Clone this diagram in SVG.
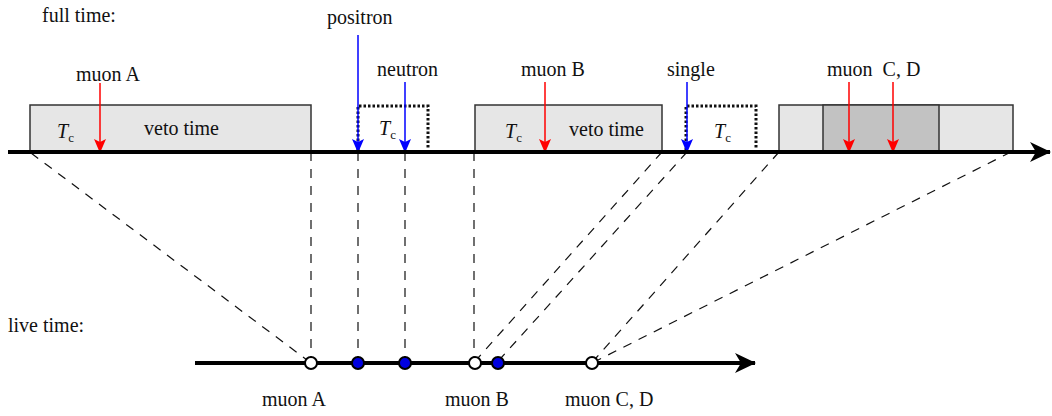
<svg xmlns="http://www.w3.org/2000/svg" width="1052" height="416" viewBox="0 0 1052 416">
<style>
text{font-family:"Liberation Serif","Times New Roman",serif;font-size:20px;fill:#111}
.box{fill:#e6e6e6;stroke:#333;stroke-width:1.5}
.dark{fill:#c2c2c2;stroke:#333;stroke-width:1.5}
.dot{fill:none;stroke:#111;stroke-width:3;stroke-dasharray:2.5 2}
.axis{stroke:#000;stroke-width:4;fill:none}
.dash{stroke:#111;stroke-width:1.2;stroke-dasharray:9 8;fill:none}
.red{stroke:#ff0000;stroke-width:1.5;fill:none}
.blue{stroke:#0000ff;stroke-width:1.5;fill:none}
.open{fill:#fff;stroke:#000;stroke-width:2}
.fill{fill:#0000e0;stroke:#000;stroke-width:2}
.sub{font-style:normal;font-size:13px}
</style>
<defs>
<marker id="ar" markerWidth="14" markerHeight="14" refX="13" refY="7" orient="auto" markerUnits="userSpaceOnUse"><path d="M0,1 L14,7 L0,13 L3,7 Z" fill="#ff0000"/></marker>
<marker id="ab" markerWidth="14" markerHeight="14" refX="13" refY="7" orient="auto" markerUnits="userSpaceOnUse"><path d="M0,1 L14,7 L0,13 L3,7 Z" fill="#0000ff"/></marker>
<marker id="ak" markerWidth="22" markerHeight="22" refX="20" refY="11" orient="auto" markerUnits="userSpaceOnUse"><path d="M0,1 L21,11 L0,21 L6,11 Z" fill="#000"/></marker>
</defs>
<text x="42" y="22">full time:</text>
<text x="8" y="332">live time:</text>
<g id="connectors">
<path class="dash" d="M31,153 L311,363"/>
<path class="dash" d="M311,152 V357"/>
<path class="dash" d="M358,152 V357"/>
<path class="dash" d="M405,152 V357"/>
<path class="dash" d="M474,152 V357"/>
<path class="dash" d="M662,152 L478,358"/>
<path class="dash" d="M687,152 L501,358"/>
<path class="dash" d="M779,152 L596,358"/>
<path class="dash" d="M1011,152 L598,360"/>
</g>
<g id="boxA">
<rect class="box" x="30" y="105" width="281" height="47"/>
<text x="57" y="138" font-style="italic">T<tspan class="sub" dy="4">c</tspan></text>
<text x="144" y="135">veto time</text>
</g>
<g id="muonA">
<text x="76" y="81">muon A</text>
<path class="red" d="M100,83 V152" marker-end="url(#ar)"/>
</g>
<g id="tcWindow1">
<path class="dot" d="M358,150 V106 H428 V148"/>
<text x="379" y="135" font-style="italic">T<tspan class="sub" dy="4">c</tspan></text>
</g>
<g id="positron">
<text x="327" y="24">positron</text>
<path class="blue" d="M358,35 V152" marker-end="url(#ab)"/>
</g>
<g id="neutron">
<text x="377" y="76">neutron</text>
<path class="blue" d="M405,82 V152" marker-end="url(#ab)"/>
</g>
<g id="boxB">
<rect class="box" x="475" y="105" width="187" height="47"/>
<text x="505" y="138" font-style="italic">T<tspan class="sub" dy="4">c</tspan></text>
<text x="569" y="136">veto time</text>
</g>
<g id="muonB">
<text x="521" y="76">muon B</text>
<path class="red" d="M545,82 V152" marker-end="url(#ar)"/>
</g>
<g id="tcWindow2">
<path class="dot" d="M686,150 V106 H756 V148"/>
<text x="714" y="138" font-style="italic">T<tspan class="sub" dy="4">c</tspan></text>
</g>
<g id="single">
<text x="667" y="76">single</text>
<path class="blue" d="M687,82 V152" marker-end="url(#ab)"/>
</g>
<g id="boxCD">
<rect class="box" x="779" y="105" width="234" height="47"/>
<rect class="dark" x="823" y="105" width="116" height="47"/>
</g>
<g id="muonCD">
<text x="827" y="76" xml:space="preserve">muon  C, D</text>
<path class="red" d="M849,82 V152" marker-end="url(#ar)"/>
<path class="red" d="M893,82 V152" marker-end="url(#ar)"/>
</g>
<g id="fullAxis">
<path class="axis" d="M8,152 H1050" marker-end="url(#ak)"/>
</g>
<g id="liveAxis">
<path class="axis" d="M195,363 H755" marker-end="url(#ak)"/>
</g>
<g id="liveMuonA">
<circle class="open" cx="311" cy="363" r="6"/>
<text x="262" y="406">muon A</text>
</g>
<g id="livePositron"><circle class="fill" cx="358" cy="363" r="6"/></g>
<g id="liveNeutron"><circle class="fill" cx="405" cy="363" r="6"/></g>
<g id="liveMuonB">
<circle class="open" cx="475" cy="363" r="6"/>
<text x="445" y="406">muon B</text>
</g>
<g id="liveSingle"><circle class="fill" cx="498" cy="363" r="6"/></g>
<g id="liveMuonCD">
<circle class="open" cx="592" cy="363" r="6"/>
<text x="565" y="406">muon C, D</text>
</g>
</svg>
